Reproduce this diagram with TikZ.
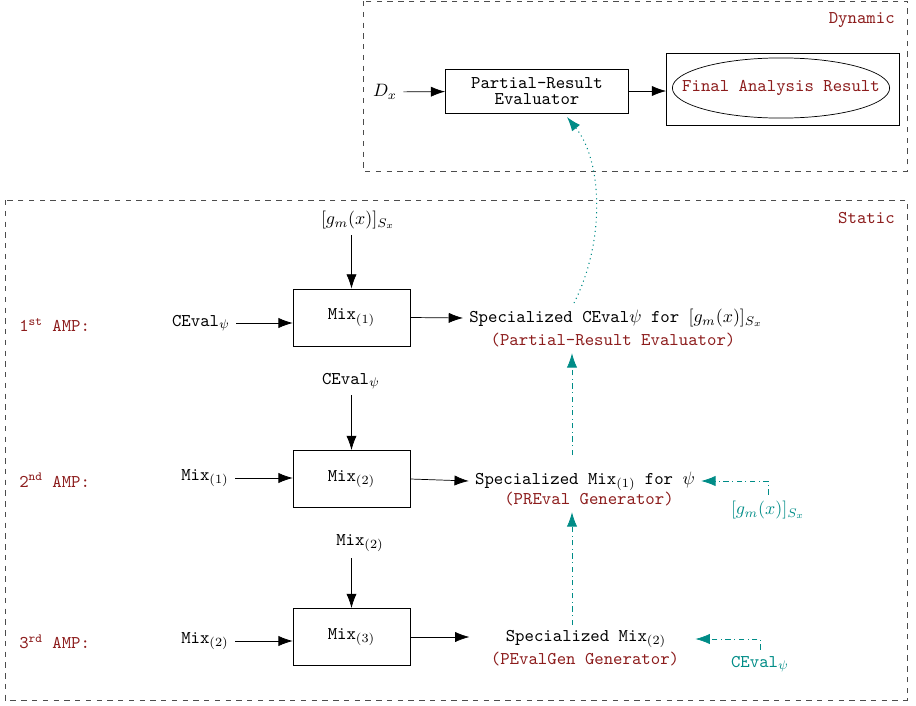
\documentclass[tikz,border=0pt]{standalone}
\usepackage{amsmath}
\usetikzlibrary{arrows.meta,shapes.geometric,calc}

\definecolor{ampred}{RGB}{140,28,28}
\definecolor{fbteal}{RGB}{0,140,135}

\begin{document}
\begin{tikzpicture}[x=0.0196cm, y=-0.0196cm,
    mixbox/.style={draw, minimum width=2.29cm, minimum height=1.12cm, font=\ttfamily},
    tag/.style={font=\ttfamily, text=ampred},
    flow/.style={-{Latex[length=2.8mm,width=2mm]}},
    feed/.style={fbteal, dash dot, -{Latex[length=2.8mm,width=2mm]}},
    region/.style={draw=black!70, dashed}]

    \useasboundingbox (0,0) rectangle (916,706);

    % Dashed regions and their names
    \draw[region] (363,1) rectangle (907,171);
    \draw[region] (5,200) rectangle (907,700);
    \node[tag, anchor=east] (dyn) at (901,20) {Dynamic};
    \node[tag, anchor=east] (sta) at (901,218) {Static};

    % Dynamic part
    \node (Dx) at (385,92) {$D_x$};
    \node[draw, minimum width=3.59cm, minimum height=0.86cm, font=\ttfamily, align=center] (PRE) at (537,91) {Partial-Result\\[-3pt]Evaluator};
    \node[draw, minimum width=4.57cm, minimum height=1.41cm] (out) at (783,89) {};
    \node[tag] (res) at (781,88) {Final Analysis Result};
    \draw (res.center) ellipse [x radius=2.13cm, y radius=0.59cm];
    \draw[flow] (Dx) -- (PRE);
    \draw[flow] (PRE.east) -- (PRE.east -| out.west);

    % AMP labels
    \node[tag, anchor=west] (amp1) at (13,325) {1\textsuperscript{st} AMP:};
    \node[tag, anchor=west] (amp2) at (13,480) {2\textsuperscript{nd} AMP:};
    \node[tag, anchor=west] (amp3) at (13,642) {3\textsuperscript{rd} AMP:};

    % Mix boxes
    \node[mixbox] (M1) at (351.5,317.5) {Mix$_{(1)}$};
    \node[mixbox] (M2) at (351.5,479) {Mix$_{(2)}$};
    \node[mixbox] (M3) at (351.5,637) {Mix$_{(3)}$};

    % Inputs
    \node (g1) at (358,220) {$[g_m(x)]_{S_x}$};
    \node (c1) at (201,323) {\texttt{CEval}$_\psi$};
    \node (c2) at (351,381) {\texttt{CEval}$_\psi$};
    \node (m1) at (205,478) {\texttt{Mix}$_{(1)}$};
    \node (m2) at (360,543) {\texttt{Mix}$_{(2)}$};
    \node (m3) at (205,641) {\texttt{Mix}$_{(2)}$};

    \draw[flow] (g1.south -| M1.north) -- (M1.north);
    \draw[flow] (c1.east) -- (c1.east -| M1.west);
    \draw[flow] (c2.south -| M2.north) -- (M2.north);
    \draw[flow] (m1.east) -- (m1.east -| M2.west);
    \draw[flow] (m2.south -| M3.north) -- (M3.north);
    \draw[flow] (m3.east) -- (m3.east -| M3.west);

    % Outputs
    \node[font=\ttfamily] (S1) at (616,318) {Specialized CEval$\psi$ for $[g_m(x)]_{S_x}$};
    \node[tag] (R1) at (613,340) {(Partial-Result Evaluator)};
    \node[font=\ttfamily] (S2) at (585,481) {Specialized Mix$_{(1)}$ for $\psi$};
    \node[tag] (R2) at (589,499) {(PREval Generator)};
    \node[font=\ttfamily] (S3) at (586,639) {Specialized Mix$_{(2)}$};
    \node[tag] (R3) at (585,659) {(PEvalGen Generator)};

    \draw[flow] (M1.east) -- (S1.west);
    \draw[flow] (M2.east) -- (S2.west);
    \draw[flow, shorten >=0.59cm] (M3.east) -- (M3.east -| S3.west);

    % Feedback from the lower levels
    \coordinate (t0) at (567,117);
    \coordinate (t1) at (574,303);
    \coordinate (t2) at (572,455);
    \coordinate (t3) at (572,625);
    \draw[fbteal, dotted, line width=0.6pt, flow] (t1) .. controls (606,240) and (602,160) .. (t0);
    \draw[feed] (t2) -- (t2 |- R1.south);
    \draw[feed] (t3) -- (t3 |- R2.south);

    % Side inputs
    \node[text=fbteal] (g2) at (768,510) {$[g_m(x)]_{S_x}$};
    \node[text=fbteal] (c3) at (760,664) {\texttt{CEval}$_\psi$};
    \draw[feed] (g2.north) |- (S2.east);
    \draw[feed, shorten >=0.45cm] (c3.north) |- (S3.east);

\end{tikzpicture}
\end{document}
